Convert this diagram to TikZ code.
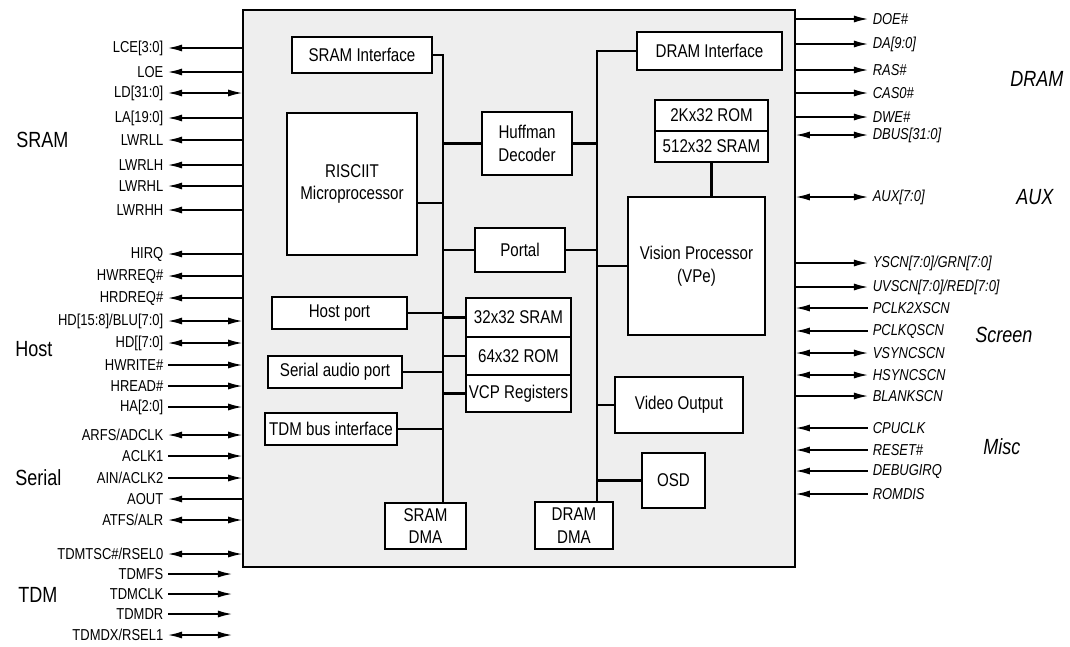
\documentclass[tikz,border=0pt]{standalone}
\usepackage{fontspec}
\setmainfont{Liberation Sans}[FakeStretch=0.82]
\usetikzlibrary{arrows.meta}
\tikzset{
  chipbox/.style={draw, fill=gray!13, line width=0.9pt, inner sep=0pt},
  blk/.style={draw, fill=white, line width=0.9pt, inner sep=0pt, align=center, font=\fontsize{10.5}{13}\selectfont},
  sigL/.style={anchor=east, inner sep=2.5pt, font=\fontsize{9}{10}\selectfont},
  sigR/.style={anchor=west, inner sep=2.5pt, font=\fontsize{9}{10}\selectfont\itshape},
  grp/.style={anchor=west, inner sep=0pt, font=\fontsize{12.5}{14}\selectfont},
  grpR/.style={anchor=west, inner sep=0pt, font=\fontsize{12.5}{14}\selectfont\itshape},
  bus/.style={line width=1.2pt},
  sig/.style={line width=0.8pt},
}
\begin{document}
\begin{tikzpicture}[x=0.02cm, y=-0.02cm, >={Latex[length=8pt,width=4pt]}]
\useasboundingbox (0,0) rectangle (1070,646);

% chip
\node[chipbox, minimum width=11.04cm, minimum height=11.14cm] (chip) at (519,288.5) {};

% blocks
\node[blk, minimum width=2.8cm, minimum height=0.72cm] (sramif) at (362,55) {SRAM Interface};
\node[blk, minimum width=2.6cm, minimum height=2.84cm] (risc) at (352,184) {RISCIIT\\Microprocessor};
\node[blk, minimum width=1.8cm, minimum height=1.26cm] (huff) at (527,143.5) {Huffman\\Decoder};
\node[blk, minimum width=1.8cm, minimum height=0.88cm] (portal) at (520,250) {Portal};
\node[blk, minimum width=2.9cm, minimum height=0.76cm] (dramif) at (709.5,51) {DRAM Interface};
\node[blk, minimum width=2.26cm, minimum height=0.62cm] (rom2k) at (711.5,115.5) {2Kx32 ROM};
\node[blk, minimum width=2.26cm, minimum height=0.62cm] (sram512) at (711.5,146.5) {512x32 SRAM};
\node[blk, minimum width=2.74cm, minimum height=2.76cm] (vp) at (696.5,266) {Vision Processor\\(VPe)};
\node[blk, minimum width=2.7cm, minimum height=0.64cm] (host) at (339.5,313) {Host port};
\node[blk, minimum width=2.68cm, minimum height=0.64cm] (serial) at (335,372) {Serial audio port};
\node[blk, minimum width=2.64cm, minimum height=0.64cm] (tdm) at (331,429) {TDM bus interface};
\node[blk, minimum width=1.62cm, minimum height=0.92cm] (sramdma) at (425.5,526) {SRAM\\DMA};
\node[blk, minimum width=2.1cm, minimum height=0.78cm] (s32) at (518.5,317.5) {32x32 SRAM};
\node[blk, minimum width=2.1cm, minimum height=0.76cm] (r64) at (518.5,356) {64x32 ROM};
\node[blk, minimum width=2.1cm, minimum height=0.74cm] (vcp) at (518.5,393.5) {VCP Registers};
\node[blk, minimum width=2.56cm, minimum height=1.12cm] (video) at (679,405) {Video Output};
\node[blk, minimum width=1.26cm, minimum height=1.1cm] (osd) at (673.5,480.5) {OSD};
\node[blk, minimum width=1.56cm, minimum height=0.94cm] (dramdma) at (574,525.5) {DRAM\\DMA};

% buses
\coordinate (lbus) at (443,55);
\coordinate (rbus) at (597,51);
\coordinate (riscc) at (443,203);
\draw[bus] (sramif.east) -- (lbus) -- (lbus |- sramdma.north);
\draw[bus] (dramif.west) -- (rbus) -- (rbus |- dramdma.north);
\draw[bus] (riscc) -- (riscc -| risc.east);
\draw[bus] (huff.west) -- (huff.west -| lbus);
\draw[bus] (huff.east) -- (huff.east -| rbus);
\draw[bus] (portal.west) -- (portal.west -| lbus);
\draw[bus] (portal.east) -- (portal.east -| rbus);
\draw[bus] (host.east) -- (host.east -| lbus);
\draw[bus] (serial.east) -- (serial.east -| lbus);
\draw[bus] (tdm.east) -- (tdm.east -| lbus);
\draw[bus] (s32.west) -- (s32.west -| lbus);
\draw[bus] (r64.west) -- (r64.west -| lbus);
\draw[bus] (vcp.west) -- (vcp.west -| lbus);
\draw[bus] (vp.west) -- (vp.west -| rbus);
\draw[bus] (video.west) -- (video.west -| rbus);
\draw[bus] (osd.west) -- (osd.west -| rbus);
\draw[bus] (sram512.south) -- (sram512.south |- vp.north);

% group labels
\node[grp] (gsram) at (16,140) {SRAM};
\node[grp] (ghost) at (15,349) {Host};
\node[grp] (gser) at (15,478) {Serial};
\node[grp] (gtdm) at (18,595) {TDM};
\node[grpR] (gdram) at (1010,79) {DRAM};
\node[grpR] (gaux) at (1016,197) {AUX};
\node[grpR] (gscr) at (975,335) {Screen};
\node[grpR] (gmisc) at (983,447) {Misc};

% left signals
\node[sigL] (lce) at (168,48) {LCE[3:0]};
\node[sigL] (loe) at (168,72) {LOE};
\node[sigL] (ld) at (168,93) {LD[31:0]};
\node[sigL] (la) at (168,118) {LA[19:0]};
\node[sigL] (lwrll) at (168,140) {LWRLL};
\node[sigL] (lwrlh) at (168,165) {LWRLH};
\node[sigL] (lwrhl) at (168,186) {LWRHL};
\node[sigL] (lwrhh) at (168,210) {LWRHH};
\node[sigL] (hirq) at (168,254) {HIRQ};
\node[sigL] (hwrreq) at (168,276) {HWRREQ\#};
\node[sigL] (hrdreq) at (168,298) {HRDREQ\#};
\node[sigL] (hdhi) at (168,321) {HD[15:8]/BLU[7:0]};
\node[sigL] (hdlo) at (168,343) {HD[[7:0]};
\node[sigL] (hwrite) at (168,365) {HWRITE\#};
\node[sigL] (hread) at (168,386) {HREAD\#};
\node[sigL] (ha) at (168,407) {HA[2:0]};
\node[sigL] (arfs) at (168,435) {ARFS/ADCLK};
\node[sigL] (aclk) at (168,456) {ACLK1};
\node[sigL] (ain) at (168,478) {AIN/ACLK2};
\node[sigL] (aout) at (168,499) {AOUT};
\node[sigL] (atfs) at (168,520) {ATFS/ALR};
\node[sigL] (tdmtsc) at (168,554) {TDMTSC\#/RSEL0};
\node[sigL] (tdmfs) at (168,574) {TDMFS};
\node[sigL] (tdmclk) at (168,594) {TDMCLK};
\node[sigL] (tdmdr) at (168,614) {TDMDR};
\node[sigL] (tdmdx) at (168,635) {TDMDX/RSEL1};
\coordinate (tdmend) at (232,600);

\draw[sig,<-] (lce.east) -- (lce.east -| chip.west);
\draw[sig,<-] (loe.east) -- (loe.east -| chip.west);
\draw[sig,<->] (ld.east) -- (ld.east -| chip.west);
\draw[sig,<-] (la.east) -- (la.east -| chip.west);
\draw[sig,<-] (lwrll.east) -- (lwrll.east -| chip.west);
\draw[sig,<-] (lwrlh.east) -- (lwrlh.east -| chip.west);
\draw[sig,<-] (lwrhl.east) -- (lwrhl.east -| chip.west);
\draw[sig,<-] (lwrhh.east) -- (lwrhh.east -| chip.west);
\draw[sig,<-] (hirq.east) -- (hirq.east -| chip.west);
\draw[sig,<-] (hwrreq.east) -- (hwrreq.east -| chip.west);
\draw[sig,<-] (hrdreq.east) -- (hrdreq.east -| chip.west);
\draw[sig,<->] (hdhi.east) -- (hdhi.east -| chip.west);
\draw[sig,<->] (hdlo.east) -- (hdlo.east -| chip.west);
\draw[sig,->] (hwrite.east) -- (hwrite.east -| chip.west);
\draw[sig,->] (hread.east) -- (hread.east -| chip.west);
\draw[sig,->] (ha.east) -- (ha.east -| chip.west);
\draw[sig,<->] (arfs.east) -- (arfs.east -| chip.west);
\draw[sig,->] (aclk.east) -- (aclk.east -| chip.west);
\draw[sig,->] (ain.east) -- (ain.east -| chip.west);
\draw[sig,<-] (aout.east) -- (aout.east -| chip.west);
\draw[sig,<->] (atfs.east) -- (atfs.east -| chip.west);
\draw[sig,<->] (tdmtsc.east) -- (tdmtsc.east -| chip.west);
\draw[sig,->] (tdmfs.east) -- (tdmfs.east -| tdmend);
\draw[sig,->] (tdmclk.east) -- (tdmclk.east -| tdmend);
\draw[sig,->] (tdmdr.east) -- (tdmdr.east -| tdmend);
\draw[sig,<->] (tdmdx.east) -- (tdmdx.east -| tdmend);

% right signals
\node[sigR] (doe) at (868,19) {DOE\#};
\node[sigR] (da) at (868,44) {DA[9:0]};
\node[sigR] (ras) at (868,70) {RAS\#};
\node[sigR] (cas) at (868,93) {CAS0\#};
\node[sigR] (dwe) at (868,117) {DWE\#};
\node[sigR] (dbus) at (868,135) {DBUS[31:0]};
\node[sigR] (aux) at (868,197) {AUX[7:0]};
\node[sigR] (yscn) at (868,263) {YSCN[7:0]/GRN[7:0]};
\node[sigR] (uvscn) at (868,287) {UVSCN[7:0]/RED[7:0]};
\node[sigR] (pclk2) at (868,308) {PCLK2XSCN};
\node[sigR] (pclkq) at (868,331) {PCLKQSCN};
\node[sigR] (vsync) at (868,353) {VSYNCSCN};
\node[sigR] (hsync) at (868,375) {HSYNCSCN};
\node[sigR] (blank) at (868,396) {BLANKSCN};
\node[sigR] (cpuclk) at (868,428) {CPUCLK};
\node[sigR] (reset) at (868,450) {RESET\#};
\node[sigR] (dbg) at (868,471) {DEBUGIRQ};
\node[sigR] (romdis) at (868,494) {ROMDIS};

\draw[sig,->] (doe.west -| chip.east) -- (doe.west);
\draw[sig,->] (da.west -| chip.east) -- (da.west);
\draw[sig,->] (ras.west -| chip.east) -- (ras.west);
\draw[sig,->] (cas.west -| chip.east) -- (cas.west);
\draw[sig,->] (dwe.west -| chip.east) -- (dwe.west);
\draw[sig,<->] (dbus.west -| chip.east) -- (dbus.west);
\draw[sig,<->] (aux.west -| chip.east) -- (aux.west);
\draw[sig,->] (yscn.west -| chip.east) -- (yscn.west);
\draw[sig,->] (uvscn.west -| chip.east) -- (uvscn.west);
\draw[sig,<-] (pclk2.west -| chip.east) -- (pclk2.west);
\draw[sig,<-] (pclkq.west -| chip.east) -- (pclkq.west);
\draw[sig,<->] (vsync.west -| chip.east) -- (vsync.west);
\draw[sig,<->] (hsync.west -| chip.east) -- (hsync.west);
\draw[sig,->] (blank.west -| chip.east) -- (blank.west);
\draw[sig,<-] (cpuclk.west -| chip.east) -- (cpuclk.west);
\draw[sig,<-] (reset.west -| chip.east) -- (reset.west);
\draw[sig,<-] (dbg.west -| chip.east) -- (dbg.west);
\draw[sig,<-] (romdis.west -| chip.east) -- (romdis.west);
\end{tikzpicture}
\end{document}
